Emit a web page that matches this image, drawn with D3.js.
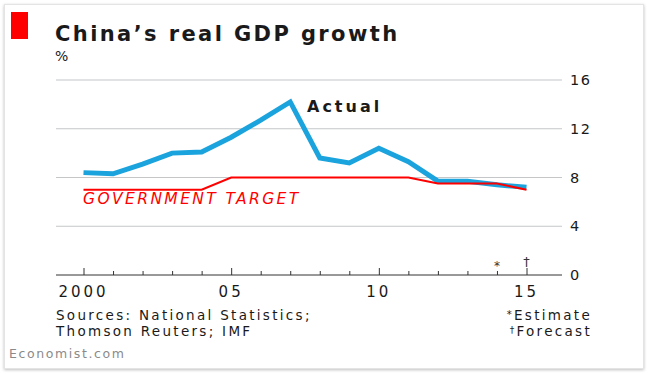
<!DOCTYPE html>
<html>
<head>
<meta charset="utf-8">
<script src="https://cdn.jsdelivr.net/npm/d3@7"></script>
<style>
  body { margin: 0; background: #fff; }
  svg text { font-family: "DejaVu Sans", sans-serif; fill: #1a1a1a; }
</style>
</head>
<body>
<div class="chart"></div>
<script>
// Chart data
var years = [2000, 2001, 2002, 2003, 2004, 2005, 2006, 2007, 2008, 2009, 2010, 2011, 2012, 2013, 2014, 2015];
var actual = [8.4, 8.3, 9.1, 10.0, 10.1, 11.3, 12.7, 14.2, 9.6, 9.2, 10.4, 9.3, 7.7, 7.7, 7.4, 7.2];
var target = [7, 7, 7, 7, 7, 8, 8, 8, 8, 8, 8, 8, 7.5, 7.5, 7.5, 7];
var yTicks = [0, 4, 8, 12, 16];
var majorYears = [2000, 2005, 2010, 2015];
var xTickLabels = ['2000', '05', '10', '15'];

var W = 650, H = 375;
var plot = { left: 56, right: 562, top: 80, bottom: 275 };

var svg = d3.select('.chart')
  .append('svg')
    .attr('width', W)
    .attr('height', H);

// frame with soft shadow
var defs = svg.append('defs');
var f = defs.append('filter').attr('id', 'shadow').attr('x', '-5%').attr('y', '-5%').attr('width', '110%').attr('height', '110%');
f.append('feDropShadow').attr('dx', 0).attr('dy', 1).attr('stdDeviation', 1.5).attr('flood-color', '#000').attr('flood-opacity', 0.25);

svg.append('rect')
  .attr('x', 4.5).attr('y', 4.5)
  .attr('width', 639).attr('height', 364)
  .attr('fill', '#fff')
  .attr('stroke', '#e4e4e4')
  .attr('filter', 'url(#shadow)');

// red tag + title
svg.append('rect').attr('x', 11).attr('y', 12).attr('width', 17).attr('height', 27).attr('fill', '#ff0000');

svg.append('text')
  .attr('x', 55).attr('y', 41)
  .style('font-size', '21px').style('font-weight', 'bold')
  .style('letter-spacing', '2.4px')
  .text('China\u2019s real GDP growth');

svg.append('text')
  .attr('x', 55).attr('y', 61)
  .style('font-size', '14px')
  .text('%');

var xScale = d3.scaleLinear()
  .domain([2000, 2015])
  .range([83.5, 526.5]);

var yScale = d3.scaleLinear()
  .domain([0, 16])
  .range([plot.bottom, plot.top]);

// gridlines
svg.append('g')
  .selectAll('line')
  .data(yTicks.filter(d => d > 0))
  .enter()
  .append('line')
    .attr('x1', plot.left).attr('x2', plot.right)
    .attr('y1', d => yScale(d)).attr('y2', d => yScale(d))
    .attr('stroke', '#c4c6c8')
    .attr('stroke-width', 1.2);

// y labels on the right
svg.append('g')
  .selectAll('text')
  .data(yTicks)
  .enter()
  .append('text')
    .attr('x', 570)
    .attr('y', d => yScale(d) + 5)
    .style('font-size', '14.5px')
    .style('letter-spacing', '1.5px')
    .text(d => d);

// x axis: line with ticks pointing up
var xAxis = d3.axisTop(xScale)
  .tickValues(years)
  .tickSize(4)
  .tickFormat('');

var gx = svg.append('g')
  .attr('transform', `translate(0, ${plot.bottom})`)
  .call(xAxis);
gx.select('.domain').remove();
gx.selectAll('.tick line')
  .attr('stroke', '#333')
  .attr('y2', d => majorYears.includes(d) ? -7 : -4);
gx.append('line')
  .attr('x1', plot.left).attr('x2', plot.right)
  .attr('stroke', '#333').attr('stroke-width', 1);

svg.append('g')
  .selectAll('text')
  .data(majorYears)
  .enter()
  .append('text')
    .attr('x', d => xScale(d))
    .attr('y', 297)
    .attr('text-anchor', 'middle')
    .style('font-size', '15px')
    .style('letter-spacing', '3px')
    .text((d, i) => xTickLabels[i]);

// estimate / forecast marks
svg.append('text')
  .attr('x', xScale(2014)).attr('y', 270)
  .attr('text-anchor', 'middle')
  .style('font-size', '12px')
  .style('fill', '#333')
  .text('*');
svg.append('text')
  .attr('x', xScale(2015)).attr('y', 266)
  .attr('text-anchor', 'middle')
  .style('font-size', '13px')
  .style('fill', '#333')
  .text('\u2020');

// lines
var line = d3.line()
  .x((d, i) => xScale(years[i]))
  .y(d => yScale(d));

svg.append('path')
  .datum(actual)
  .attr('d', line)
  .attr('fill', 'none')
  .attr('stroke', '#1aa3dd')
  .attr('stroke-width', 5);

svg.append('path')
  .datum(target)
  .attr('d', line)
  .attr('fill', 'none')
  .attr('stroke', '#ff0000')
  .attr('stroke-width', 2);

// series labels
svg.append('text')
  .attr('x', 307).attr('y', 112)
  .style('font-size', '16px')
  .style('font-weight', '600')
  .style('letter-spacing', '3px')
  .text('Actual');

svg.append('text')
  .attr('x', 83).attr('y', 204)
  .style('font-size', '15.5px')
  .style('font-style', 'italic')
  .style('letter-spacing', '2.4px')
  .style('fill', '#ff0000')
  .text('GOVERNMENT TARGET');

// footer
var foot = svg.append('g').style('font-size', '13.5px').style('letter-spacing', '2.3px');
foot.append('text').attr('x', 56).attr('y', 320).text('Sources: National Statistics;');
foot.append('text').attr('x', 56).attr('y', 336).text('Thomson Reuters; IMF');

var est = foot.append('text').attr('x', 592).attr('y', 320).attr('text-anchor', 'end');
est.append('tspan').style('font-size', '10px').attr('dy', -2).text('*');
est.append('tspan').attr('dy', 2).text('Estimate');
var fc = foot.append('text').attr('x', 592).attr('y', 336).attr('text-anchor', 'end');
fc.append('tspan').style('font-size', '9px').attr('dy', -3).text('\u2020');
fc.append('tspan').attr('dy', 3).text('Forecast');

svg.append('text')
  .attr('x', 9).attr('y', 358)
  .style('font-size', '12.5px')
  .style('letter-spacing', '1.6px')
  .style('fill', '#8a8a8a')
  .text('Economist.com');
</script>
</body>
</html>
